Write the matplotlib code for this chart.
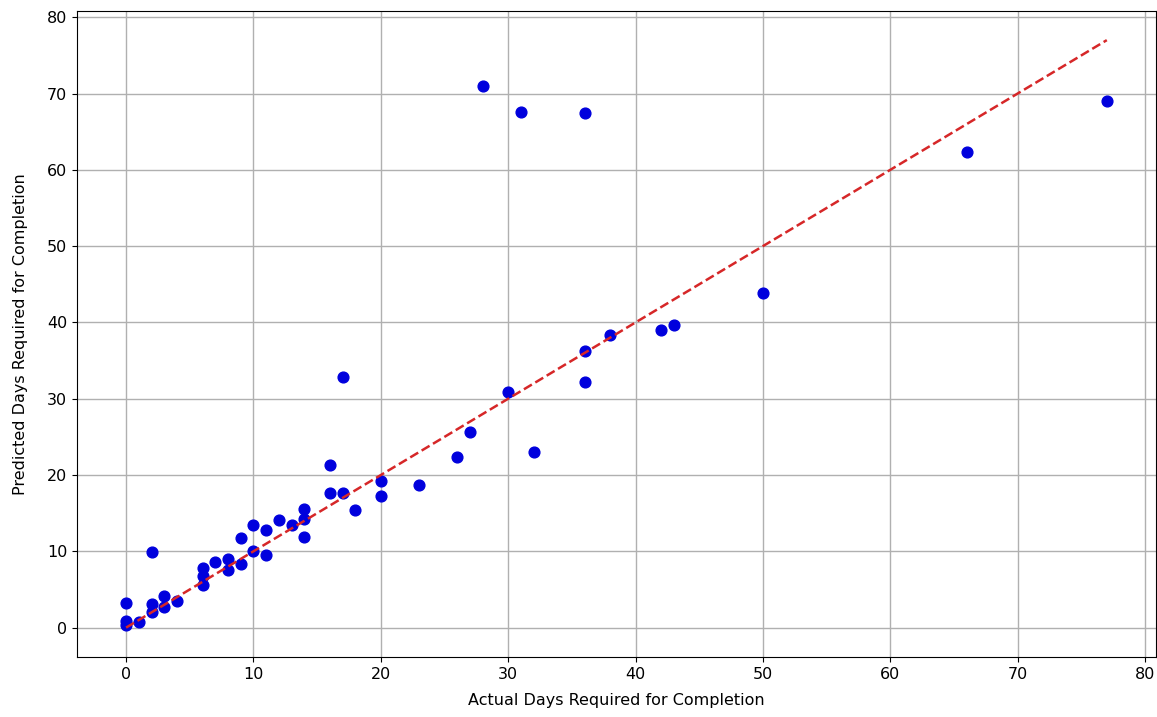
import matplotlib
matplotlib.use("Agg")
import matplotlib.pyplot as plt

actual = [0, 0, 0, 1, 2, 2, 2, 3, 3, 4, 6, 6, 6, 7, 8, 8, 9, 9, 10, 10,
          11, 11, 12, 13, 14, 14, 14, 16, 16, 17, 17, 18, 20, 20, 23, 26, 27, 28, 30, 31,
          32, 36, 36, 36, 38, 42, 43, 50, 66, 77]
predicted = [0.3, 0.9, 3.2, 0.8, 2.0, 3.1, 9.9, 2.75, 4.2, 3.45, 5.6, 6.8, 7.8, 8.6, 7.5, 9.0, 8.4, 11.8, 10.1, 13.4,
             9.5, 12.8, 14.05, 13.4, 11.9, 14.2, 15.6, 17.6, 21.3, 17.6, 32.8, 15.4, 17.2, 19.2, 18.65, 22.4, 25.7, 71.0, 30.9, 67.6,
             23.05, 67.5, 32.2, 36.2, 38.4, 39.0, 39.6, 43.8, 62.4, 69.0]

xlabel = "Actual Days Required for Completion"
ylabel = "Predicted Days Required for Completion"

fig = plt.figure(figsize=(11.57, 7.17), dpi=100)
ax = fig.add_axes([0.0666, 0.0837, 0.9324, 0.9013])
ax.scatter(actual, predicted, s=60, color="#0000dd", zorder=3)
lo, hi = min(actual), max(actual)
ax.plot([lo, hi], [lo, hi], "--", color="#d62728", linewidth=1.8, zorder=4)
ax.grid(True, color="#b0b0b0", linewidth=1)
ax.set_axisbelow(True)
ax.set_xlabel(xlabel, fontsize=11.5, labelpad=8)
ax.set_ylabel(ylabel, fontsize=11.5, labelpad=14)
ax.tick_params(labelsize=11.5)
fig.savefig("out.png", dpi=100)
